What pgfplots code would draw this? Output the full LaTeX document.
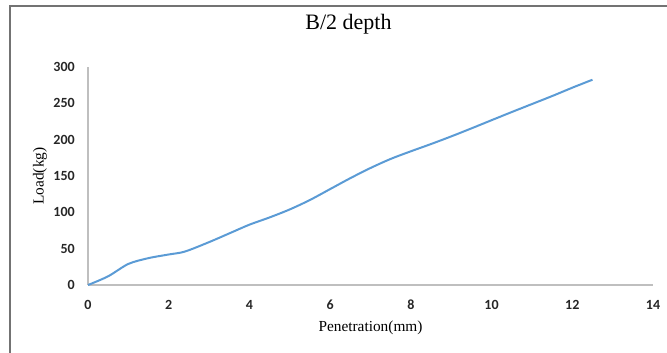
\documentclass[border=0pt]{standalone}
\usepackage{fontspec}
\setmainfont{Liberation Serif}
\newfontfamily\carlito{Carlito}
\usepackage{pgfplots}
\pgfplotsset{compat=1.18}
\definecolor{lineblue}{RGB}{91,155,213}
\definecolor{axgrey}{RGB}{191,191,191}
\definecolor{ticktext}{RGB}{38,38,38}
\begin{document}
\begin{tikzpicture}
\useasboundingbox (0,0) rectangle (500.25pt,264.75pt);
\draw[line width=1.5pt, color=black!55] (7.5pt,0) -- (7.5pt,260.25pt) -- (500.25pt,260.25pt);
\begin{axis}[
  at={(66pt,51pt)}, anchor=south west,
  scale only axis, width=423.75pt, height=163.5pt,
  xmin=0, xmax=14, ymin=0, ymax=300,
  xtick={0,2,...,14}, ytick={0,50,...,300},
  axis x line=bottom, axis y line=left,
  axis line style={-, color=axgrey, line width=1pt},
  major tick length=0pt,
  /pgf/number format/assume math mode=true,
  tick label style={font=\carlito\bfseries\fontsize{10.5}{12}\selectfont, color=ticktext, inner sep=0pt},
  yticklabel style={anchor=east}, yticklabel shift=9.75pt,
  xticklabel style={anchor=north}, xticklabel shift=11pt,
  title={B/2 depth},
  title style={font=\fontsize{16.5}{19}\selectfont, at={(axis description cs:0.5,1)}, anchor=center, yshift=26pt, xshift=-16.5pt},
  xlabel={Penetration(mm)},
  xlabel style={font=\fontsize{11.5}{13}\selectfont, at={(axis description cs:0.5,-0.196)}, anchor=center},
  ylabel={Load(kg)},
  ylabel style={font=\fontsize{11.5}{13}\selectfont, at={(axis description cs:-0.085,0.5)}, anchor=center},
  clip=false,
]
\addplot[color=lineblue, line width=1.5pt, smooth, tension=0.5] coordinates {
(0,0) (0.5,12) (1,29) (1.5,37) (2,42) (2.4,46) (3,59) (3.5,71) (4,83) (4.5,93)
(5,104) (5.5,117) (6,132) (6.5,147) (7,161) (7.5,173.5) (8,184) (8.5,194)
(9,204.5) (9.5,215.5) (10,226.8) (10.5,238) (11,249) (11.5,260) (12,271.5) (12.5,282.5)
};
\end{axis}
\end{tikzpicture}
\end{document}
